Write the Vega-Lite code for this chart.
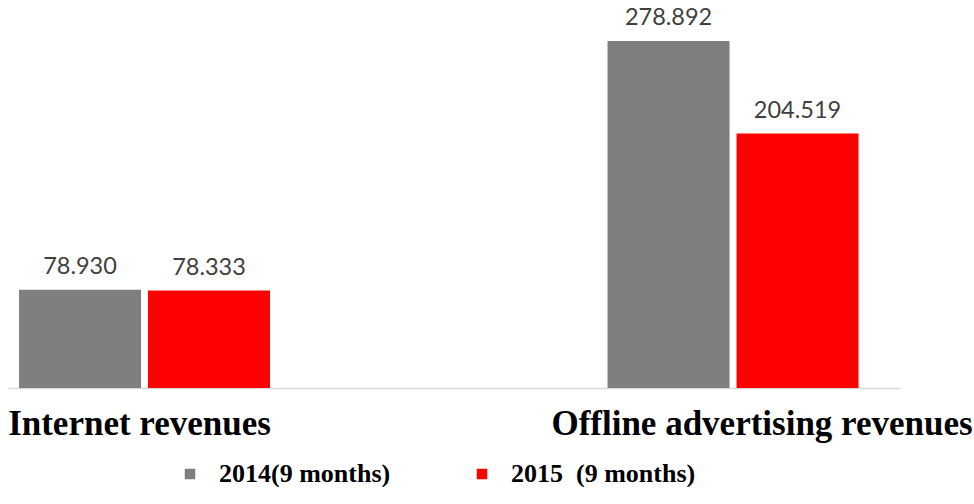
{
  "$schema": "https://vega.github.io/schema/vega-lite/v6.json",
  "width": 974,
  "height": 388,
  "padding": 0,
  "autosize": {"type": "pad"},
  "background": "white",
  "config": {"view": {"stroke": null}},
  "data": {
    "values": [
      {"category": "Internet revenues", "series": "2014(9 months)", "value": 78.93},
      {"category": "Internet revenues", "series": "2015\u00a0\u00a0(9 months)", "value": 78.333},
      {"category": "Offline advertising revenues", "series": "2014(9 months)", "value": 278.892},
      {"category": "Offline advertising revenues", "series": "2015\u00a0\u00a0(9 months)", "value": 204.519}
    ]
  },
  "encoding": {
    "x": {
      "field": "category",
      "type": "nominal",
      "sort": null,
      "scale": {"range": [8, 900], "paddingInner": 0.5735, "paddingOuter": 0.0446, "align": 0.21, "round": false},
      "axis": {
        "title": null,
        "ticks": false,
        "labelAngle": 0,
        "labelFont": "Liberation Serif",
        "labelFontWeight": "bold",
        "labelFontSize": 35,
        "labelColor": "#000000",
        "labelPadding": 18,
        "labelOffset": {"condition": {"test": "datum.value === 'Internet revenues'", "value": -5}, "value": 29},
        "labelLimit": 0,
        "domainColor": "#d9d9d9",
        "domainWidth": 1.5
      }
    },
    "xOffset": {
      "field": "series",
      "type": "nominal",
      "sort": null,
      "scale": {"paddingInner": 0.054, "paddingOuter": 0}
    },
    "y": {
      "field": "value",
      "type": "quantitative",
      "scale": {"domain": [0, 311.9], "nice": false, "zero": true},
      "axis": null
    }
  },
  "layer": [
    {
      "mark": {"type": "bar"},
      "encoding": {
        "color": {
          "field": "series",
          "type": "nominal",
          "sort": null,
          "scale": {"domain": ["2014(9 months)", "2015\u00a0\u00a0(9 months)"], "range": ["#7f7f7f", "#ff0000"]},
          "legend": {
            "title": null,
            "orient": "none",
            "legendX": 177,
            "legendY": 461,
            "direction": "horizontal",
            "symbolType": "square",
            "symbolSize": 110,
            "symbolStrokeWidth": 0,
            "labelFont": "Liberation Serif",
            "labelFontWeight": "bold",
            "labelFontSize": 26,
            "labelColor": "#000000",
            "labelOffset": 16,
            "labelLimit": 0,
            "columnPadding": 78
          }
        }
      }
    },
    {
      "mark": {"type": "text", "baseline": "alphabetic", "dy": -16, "font": "Lato", "fontSize": 23.5, "color": "#404040"},
      "encoding": {
        "text": {"field": "value", "type": "quantitative", "format": ".3f"}
      }
    }
  ]
}
